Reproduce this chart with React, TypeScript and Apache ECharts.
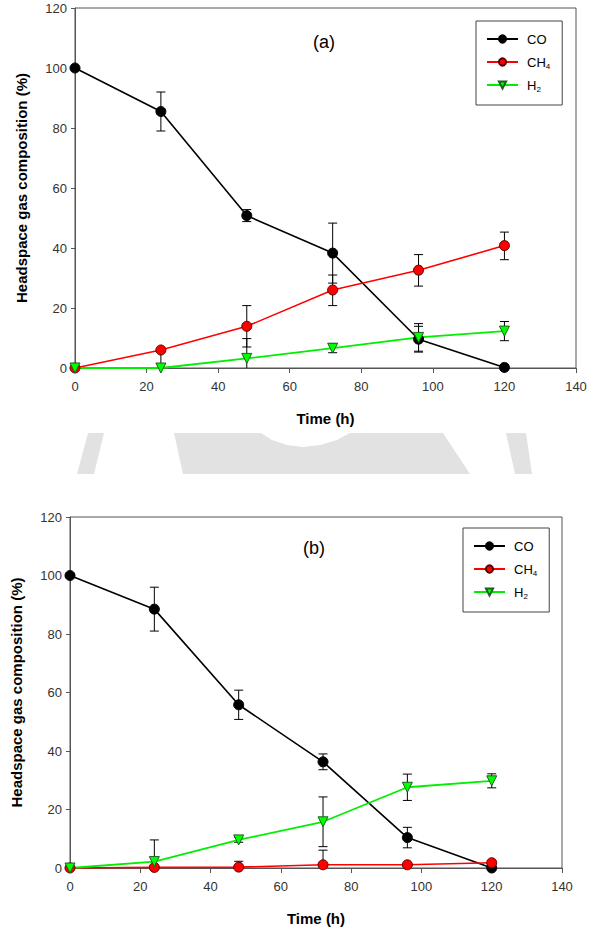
import React, { useEffect, useRef } from "react";
import * as echarts from "echarts";

// ---------- data ----------
const times = [0, 24, 48, 72, 96, 120];
const xTicks = [0, 20, 40, 60, 80, 100, 120, 140];
const yTicks = [0, 20, 40, 60, 80, 100, 120];

// Panel (a)
const coA = [100, 85.5, 50.8, 38.3, 9.6, 0.2];
const coAErr = [0, 6.5, 2.0, 10.0, 4.3, 0.8];
const ch4A = [0, 6.0, 13.9, 26.0, 32.6, 40.8];
const ch4AErrUp = [0, 0, 6.9, 5.0, 5.2, 4.5];
const ch4AErrDown = [0, 6.0, 6.9, 5.2, 5.3, 4.7];
const h2A = [0, 0, 3.2, 6.6, 10.2, 12.3];
const h2AErr = [0, 0, 6.6, 1.5, 4.6, 3.2];

// Panel (b)
const coB = [100, 88.5, 55.8, 36.3, 10.4, 0];
const coBErr = [0, 7.5, 5.0, 2.7, 3.5, 0];
const ch4B = [0, 0.2, 0.3, 1.1, 1.1, 1.8];
const ch4BErr = [0, 0, 2.0, 5.0, 0.5, 0.5];
const h2B = [0, 2.2, 9.6, 15.8, 27.6, 29.8];
const h2BErr = [0, 7.4, 0.8, 8.5, 4.5, 2.4];

const FONT = "'Liberation Sans', Arial, Helvetica, sans-serif";
const AXIS_COLOR = "#555";

function pairs(vals: number[]) {
  return times.map((t, i) => [t, vals[i]]);
}

function errData(vals: number[], up: number[], down: number[]) {
  const out: number[][] = [];
  times.forEach((t, i) => {
    if (up[i] > 0 || down[i] > 0) out.push([t, vals[i] - down[i], vals[i] + up[i]]);
  });
  return out;
}

function errSeries(idx: number, data: number[][]) {
  return {
    type: "custom",
    xAxisIndex: idx,
    yAxisIndex: idx,
    z: 1,
    silent: true,
    clip: true,
    encode: { x: 0, y: [1, 2] },
    data,
    renderItem: (params: any, api: any) => {
      const x = api.value(0);
      const lo = api.value(1);
      const hi = api.value(2);
      const loC = Math.max(lo, 0);
      const pLo = api.coord([x, loC]);
      const pHi = api.coord([x, hi]);
      const cw = 4.5;
      const st = { stroke: "#000", lineWidth: 1 };
      const children: any[] = [
        { type: "line", shape: { x1: pLo[0], y1: pLo[1], x2: pHi[0], y2: pHi[1] }, style: st },
        { type: "line", shape: { x1: pHi[0] - cw, y1: pHi[1], x2: pHi[0] + cw, y2: pHi[1] }, style: st },
      ];
      if (lo >= 0) {
        children.push({ type: "line", shape: { x1: pLo[0] - cw, y1: pLo[1], x2: pLo[0] + cw, y2: pLo[1] }, style: st });
      }
      return { type: "group", children };
    },
  };
}

function lineSeries(name: string, idx: number, vals: number[]) {
  const base: any = {
    name,
    type: "line",
    xAxisIndex: idx,
    yAxisIndex: idx,
    data: pairs(vals),
    z: 3,
    symbolSize: 10,
  };
  if (name === "CO") {
    base.symbol = "circle";
    base.lineStyle = { color: "#000", width: 1.6 };
    base.itemStyle = { color: "#000", borderColor: "#000", borderWidth: 1 };
  } else if (name === "CH4") {
    base.symbol = "circle";
    base.lineStyle = { color: "#ff0000", width: 1.6 };
    base.itemStyle = { color: "#ff0000", borderColor: "#5a0000", borderWidth: 1 };
  } else {
    base.symbol = "triangle";
    base.symbolRotate = 180;
    base.symbolSize = 10;
    base.lineStyle = { color: "#00ee00", width: 1.8 };
    base.itemStyle = { color: "#00ff00", borderColor: "#1f5f1f", borderWidth: 1 };
  }
  return base;
}

function xAxis(idx: number) {
  return {
    type: "value",
    gridIndex: idx,
    min: 0,
    max: 140,
    interval: 20,
    name: "Time (h)",
    nameLocation: "middle",
    nameGap: 43,
    nameTextStyle: { fontFamily: FONT, fontSize: 15, fontWeight: "bold", color: "#000" },
    axisLine: { show: true, lineStyle: { color: AXIS_COLOR, width: 1 } },
    axisTick: { show: true, inside: false, length: 5, lineStyle: { color: AXIS_COLOR } },
    axisLabel: { fontFamily: FONT, fontSize: 13, color: "#333", margin: 12 },
    splitLine: { show: false },
  };
}

function yAxis(idx: number) {
  return {
    type: "value",
    gridIndex: idx,
    min: 0,
    max: 120,
    interval: 20,
    name: "Headspace gas composition (%)",
    nameLocation: "middle",
    nameGap: 46,
    nameTextStyle: { fontFamily: FONT, fontSize: 15, fontWeight: "bold", color: "#000" },
    axisLine: { show: true, lineStyle: { color: AXIS_COLOR, width: 1 } },
    axisTick: { show: true, inside: false, length: 4, lineStyle: { color: AXIS_COLOR } },
    axisLabel: { fontFamily: FONT, fontSize: 13, color: "#333", margin: 8 },
    splitLine: { show: false },
  };
}

function legend(left: number, top: number) {
  return {
    orient: "vertical",
    left,
    top,
    padding: [10, 12, 12, 10],
    itemGap: 7,
    itemWidth: 31,
    itemHeight: 9,
    borderColor: "#444",
    borderWidth: 1,
    backgroundColor: "#fff",
    selectedMode: false,
    data: ["CO", "CH4", "H2"],
    formatter: (name: string) => {
      if (name === "CH4") return "CH{s|4}";
      if (name === "H2") return "H{s|2}";
      return name;
    },
    textStyle: {
      fontFamily: FONT,
      fontSize: 13,
      lineHeight: 16,
      color: "#000",
      padding: [0, 0, 0, 4],
      rich: {
        s: { fontFamily: FONT, fontSize: 8, lineHeight: 16, verticalAlign: "bottom", color: "#000", padding: [6, 0, 0, 0] },
      },
    },
  };
}

const GRAY = "#e2e2e2";

export default function App() {
  const ref = useRef<HTMLDivElement>(null);
  useEffect(() => {
    document.body.style.margin = "0";
    if (!ref.current) return;
    const chart = echarts.init(ref.current, undefined, { renderer: "svg" });
    const option: any = {
      animation: false,
      backgroundColor: "#fff",
      grid: [
        { left: 75, top: 8, right: 17, height: 360, show: true, borderColor: AXIS_COLOR, borderWidth: 1, backgroundColor: "transparent" },
        { left: 70, top: 517, right: 31, height: 351, show: true, borderColor: AXIS_COLOR, borderWidth: 1, backgroundColor: "transparent" },
      ],
      xAxis: [xAxis(0), xAxis(1)],
      yAxis: [yAxis(0), yAxis(1)],
      legend: [legend(476, 21), legend(463, 528)],
      graphic: [
        { type: "polygon", silent: true, z: -10, shape: { points: [[88, 433], [104, 433], [94, 474], [77, 474]] }, style: { fill: GRAY } },
        {
          type: "polygon", silent: true, z: -10,
          shape: { points: [[174, 433], [261, 433], [272, 440], [287, 445], [303, 447], [320, 445], [337, 440], [350, 433], [443, 433], [470, 474], [183, 474]] },
          style: { fill: GRAY },
        },
        { type: "polygon", silent: true, z: -10, shape: { points: [[506, 433], [526, 433], [532, 474], [515, 474]] }, style: { fill: GRAY } },
        { type: "text", x: 324, y: 42, style: { text: "(a)", fontFamily: FONT, fontSize: 18, fill: "#000", textAlign: "center", textVerticalAlign: "middle" } },
        { type: "text", x: 314, y: 548, style: { text: "(b)", fontFamily: FONT, fontSize: 18, fill: "#000", textAlign: "center", textVerticalAlign: "middle" } },
      ],
      series: [
        errSeries(0, errData(coA, coAErr, coAErr)),
        errSeries(0, errData(ch4A, ch4AErrUp, ch4AErrDown)),
        errSeries(0, errData(h2A, h2AErr, h2AErr)),
        lineSeries("CO", 0, coA),
        lineSeries("CH4", 0, ch4A),
        lineSeries("H2", 0, h2A),
        errSeries(1, errData(coB, coBErr, coBErr)),
        errSeries(1, errData(ch4B, ch4BErr, ch4BErr)),
        errSeries(1, errData(h2B, h2BErr, h2BErr)),
        lineSeries("CO", 1, coB),
        lineSeries("CH4", 1, ch4B),
        lineSeries("H2", 1, h2B),
      ],
    };
    chart.setOption(option);
    return () => chart.dispose();
  }, []);
  return <div ref={ref} style={{ width: 593, height: 936 }} />;
}
